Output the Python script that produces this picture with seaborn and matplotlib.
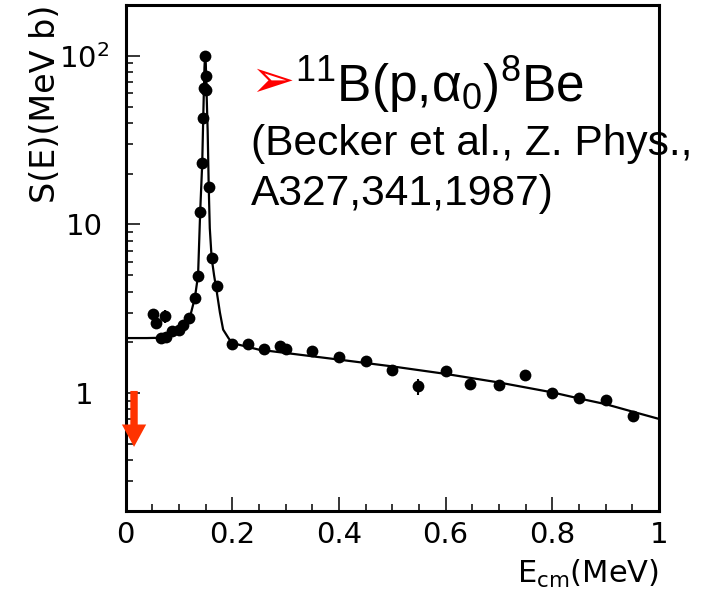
import matplotlib
matplotlib.use("Agg")
import matplotlib.pyplot as plt
import numpy as np
import pandas as pd
import seaborn as sns
from matplotlib.ticker import FixedLocator, FixedFormatter, LogLocator, NullFormatter, MultipleLocator

# ---------------- data ----------------
data_E = [0.051, 0.058, 0.067, 0.0745, 0.076, 0.088, 0.0996, 0.108, 0.1195, 0.130,
          0.1363, 0.140, 0.1438, 0.1457, 0.147, 0.150, 0.150, 0.1489, 0.156, 0.1614,
          0.171, 0.200, 0.230, 0.260, 0.290, 0.300, 0.349, 0.400, 0.450, 0.500,
          0.549, 0.600, 0.645, 0.700, 0.749, 0.800, 0.850, 0.900, 0.951]
data_S = [2.96, 2.61, 2.12, 2.85, 2.15, 2.32, 2.38, 2.55, 2.79, 3.67,
          4.98, 11.9, 23.1, 42.6, 64.0, 63.0, 76.0, 99.5, 16.7, 6.36,
          4.3, 1.95, 1.96, 1.83, 1.91, 1.83, 1.78, 1.64, 1.56, 1.38,
          1.10, 1.36, 1.13, 1.11, 1.28, 1.00, 0.934, 0.912, 0.736]
data_err = [0.0, 0.0, 0.0, 0.25, 0.0, 0.0, 0.0, 0.0, 0.0, 0.0,
            0.0, 0.0, 0.0, 0.0, 0.0, 0.0, 0.0, 0.0, 0.0, 0.0,
            0.0, 0.0, 0.0, 0.0, 0.0, 0.0, 0.0, 0.0, 0.0, 0.0,
            0.12, 0.0, 0.0, 0.0, 0.0, 0.0, 0.0, 0.0, 0.0]

fit_E = [0.000, 0.040, 0.070, 0.085, 0.100, 0.113, 0.121, 0.130, 0.136, 0.140,
         0.1438, 0.1457, 0.147, 0.148, 0.149, 0.1505, 0.152, 0.154, 0.156, 0.158,
         0.1614, 0.166, 0.171, 0.177, 0.183, 0.193, 0.200, 0.250, 0.300, 0.400,
         0.500, 0.600, 0.700, 0.800, 0.850, 0.900, 0.950, 1.000]
fit_S = [2.12, 2.12, 2.13, 2.22, 2.40, 2.60, 2.84, 3.67, 4.98, 11.9,
         23.0, 42.6, 64.0, 85.0, 99.0, 90.0, 60.0, 36.0, 16.7, 9.5,
         6.36, 5.0, 4.0, 3.0, 2.38, 2.12, 1.98, 1.81, 1.73, 1.58,
         1.44, 1.30, 1.156, 1.01, 0.93, 0.86, 0.777, 0.703]

xtick_vals = [0.0, 0.2, 0.4, 0.6, 0.8, 1.0]
xtick_labels = ["0", "0.2", "0.4", "0.6", "0.8", "1"]
ytick_vals = [1, 10, 100]
ytick_labels = ["1", "10", r"$\mathsf{10^{2}}$"]

limit_E = [0.0, 1.0]
limit_S = [0.2, 200.0]
limit_arrow_E = 0.016
limit_arrow_S = [1.03, 0.48]

title_line1 = r"$^{11}$B(p,$\mathrm{\alpha}_0$)$^{8}$Be"
title_line2 = "(Becker et al., Z. Phys.,"
title_line3 = "A327,341,1987)"
x_label = r"$\mathsf{E_{cm}(MeV)}$"
y_label = "S(E)(MeV b)"

# ---------------- style ----------------
sns.set_theme(style="ticks")
plt.rcParams["font.family"] = ["Liberation Sans", "DejaVu Sans"]
plt.rcParams["mathtext.fontset"] = "custom"
plt.rcParams["mathtext.rm"] = "Liberation Sans"
plt.rcParams["mathtext.it"] = "Liberation Sans:italic"
plt.rcParams["mathtext.bf"] = "Liberation Sans:bold"
plt.rcParams["mathtext.sf"] = "DejaVu Sans"
plt.rcParams["text.color"] = "black"
plt.rcParams["axes.labelcolor"] = "black"
plt.rcParams["xtick.color"] = "black"
plt.rcParams["ytick.color"] = "black"

W, H = 709, 593
fig = plt.figure(figsize=(W / 100, H / 100), dpi=100)
ax = fig.add_axes([125.5 / W, 1 - 511 / H, 533.5 / W, 506 / H])

pts = pd.DataFrame({"E": data_E, "S": data_S, "err": data_err})
fit = pd.DataFrame({"E": fit_E, "S": fit_S})

sns.lineplot(data=fit, x="E", y="S", ax=ax, color="black", lw=1.6,
             estimator=None, sort=False, legend=False)
ax.errorbar(pts["E"], pts["S"], yerr=pts["err"], fmt="none", ecolor="black",
            elinewidth=1.5, capsize=0)
sns.scatterplot(data=pts, x="E", y="S", ax=ax, color="black", s=72,
                edgecolor="black", linewidth=0, legend=False, zorder=3)

ax.set_yscale("log")
ax.set_xlim(*limit_E)
ax.set_ylim(*limit_S)

# ticks
ax.xaxis.set_major_locator(FixedLocator(xtick_vals))
ax.xaxis.set_major_formatter(FixedFormatter(xtick_labels))
ax.xaxis.set_minor_locator(MultipleLocator(0.05))
ax.yaxis.set_major_locator(FixedLocator(ytick_vals))
ax.yaxis.set_major_formatter(FixedFormatter(ytick_labels))
ax.yaxis.set_minor_locator(LogLocator(base=10, subs=np.arange(2, 10)))
ax.yaxis.set_minor_formatter(NullFormatter())

ax.tick_params(axis="both", which="major", direction="in", length=10, width=1.1,
               labelsize=21, labelfontfamily="DejaVu Sans", top=False, right=False)
ax.tick_params(axis="both", which="minor", direction="in", length=5, width=1.1,
               top=False, right=False)
ax.tick_params(axis="x", which="major", pad=7)
ax.tick_params(axis="y", which="major", pad=30)
for lab in ax.get_yticklabels():
    lab.set_horizontalalignment("center")

for sp in ax.spines.values():
    sp.set_visible(True)
    sp.set_linewidth(2.2)
    sp.set_color("black")

ax.set_xlabel(x_label, fontsize=22, loc="right")
ax.xaxis.set_label_coords(1.0, -(558 - 511) / 506)
ax.set_ylabel(y_label, fontsize=24, loc="top", family=["DejaVu Sans"])
ax.yaxis.set_label_coords(-(125.5 - 62) / 533.5, 1.0)

# red arrow near the y axis
ax.annotate("", xy=(limit_arrow_E, limit_arrow_S[1]), xytext=(limit_arrow_E, limit_arrow_S[0]),
            arrowprops=dict(arrowstyle="simple,head_length=1.15,head_width=1.25,tail_width=0.38",
                            mutation_scale=14, color="#ff3300", lw=0, shrinkA=0, shrinkB=0))

# annotation text
fig.text(250 / W, 1 - 82 / H, "\u27a2", color="red", fontsize=38,
         family=["DejaVu Sans"], va="center", ha="left")
fig.text(295 / W, 1 - 102 / H, title_line1, fontsize=37, va="baseline", ha="left")
fig.text(251 / W, 1 - 155 / H, title_line2, fontsize=30.6, va="baseline", ha="left")
fig.text(251 / W, 1 - 205 / H, title_line3, fontsize=30.6, va="baseline", ha="left")

fig.savefig("out.png", dpi=100)
